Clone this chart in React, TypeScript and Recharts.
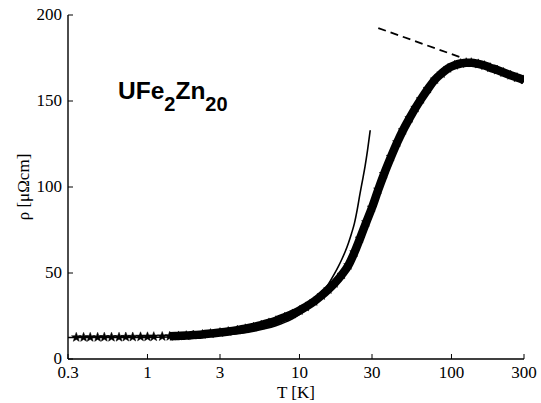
import React from 'react';
import { ComposedChart, Line, Scatter, XAxis, YAxis } from 'recharts';

// Measured resistivity rho(T) of UFe2Zn20 (star markers)
const tempK = [
  0.34, 0.38, 0.42, 0.47, 0.52, 0.58, 0.65, 0.72, 0.8, 0.9, 1.0, 1.1, 1.25, 1.4, 1.6, 1.8, 2.0, 2.3,
  2.6, 3.0, 3.4, 3.9, 4.4, 5.0, 5.6, 6.3, 7.0, 8.0, 9.0, 10, 11, 12.5, 14, 15.5, 17, 19, 21, 23, 25,
  27.5, 30, 33, 36, 40, 44, 48, 53, 58, 63, 70, 78, 86, 95, 105, 115, 125, 135, 150, 165, 180, 200,
  220, 245, 270, 300,
];
const rhoValues = [
  12.6, 12.6, 12.6, 12.6, 12.7, 12.7, 12.7, 12.8, 12.8, 12.9, 12.9, 13.0, 13.1, 13.2, 13.4, 13.6, 13.9,
  14.3, 14.8, 15.4, 16.0, 16.8, 17.6, 18.6, 19.7, 21.0, 22.3, 24.3, 26.2, 28.2, 30.3, 33.5, 37, 40.5, 44,
  49, 54.5, 62, 70, 79.5, 88, 98.5, 107.5, 117.5, 126, 133, 140, 146, 151, 157, 162.5, 166, 169, 170.8,
  171.8, 172.3, 172.3, 171.6, 170.6, 169.4, 168, 166.6, 165, 163.6, 162.3,
];

// Low-temperature fit (thin solid line)
const fitT = [0.3, 0.5, 1, 1.5, 2, 3, 4, 5, 6, 7, 8, 9, 10, 11, 12, 13, 14, 15, 16, 17, 18, 19, 20, 21, 22, 23, 24, 25, 26, 27, 28, 29.2];
const fitRho = [12.5, 12.5, 12.6, 12.8, 13.1, 13.9, 14.9, 16.2, 17.7, 19.4, 21.3, 23.4, 25.8, 28.4, 31.2, 34.4, 38, 41.7, 45.6, 49.6, 53.7, 58, 62.5, 67.5, 73, 79, 87, 96, 104, 112, 121, 133];

// High-temperature -lnT line (dashed)
const dashT = [33, 120];
const dashRho = [192.4, 174.8];

const xTicks = [0.3, 1, 3, 10, 30, 100, 300];
const yTicks = [0, 50, 100, 150, 200];

const mainData = tempK.map((T, i) => ({ T, rho: rhoValues[i] }));
const bandData = mainData.filter((d) => d.T >= 1.4);
const fitData = fitT.map((T, i) => ({ T, rho: fitRho[i] }));
const dashData = dashT.map((T, i) => ({ T, rho: dashRho[i] }));

const SERIF = 'Liberation Serif';
const FS = 17;
const textStyle = { fontFamily: "'Liberation Serif'", fontSize: FS };

function Star(props: any) {
  const { cx, cy } = props;
  if (cx == null || cy == null || isNaN(cx) || isNaN(cy)) return null;
  const R = 5;
  const r = 2.1;
  let d = '';
  for (let k = 0; k < 10; k++) {
    const rad = k % 2 === 0 ? R : r;
    const a = -Math.PI / 2 + (k * Math.PI) / 5;
    d += (k === 0 ? 'M' : 'L') + (cx + rad * Math.cos(a)).toFixed(2) + ',' + (cy + rad * Math.sin(a)).toFixed(2);
  }
  return <path d={d + 'Z'} fill="#000" stroke="#000" strokeWidth={0.5} />;
}

const renderXTick = (props: any) => {
  const { x, y, payload } = props;
  return (
    <text x={x} y={y} dy="0.74em" textAnchor="middle" fill="#000" fontFamily={SERIF} fontSize={FS} style={textStyle}>
      {String(payload.value)}
    </text>
  );
};

const renderYTick = (props: any) => {
  const { x, y, payload } = props;
  return (
    <text x={x} y={y} dy="0.28em" textAnchor="end" fill="#000" fontFamily={SERIF} fontSize={FS} style={textStyle}>
      {String(payload.value)}
    </text>
  );
};

const renderXTitle = (props: any) => {
  const vb = props.viewBox || {};
  return (
    <text x={vb.x + vb.width / 2} y={vb.y + vb.height - 5} textAnchor="middle" fill="#000" fontFamily={SERIF} fontSize={FS} style={textStyle}>
      T [K]
    </text>
  );
};

const renderYTitle = (props: any) => {
  const vb = props.viewBox || {};
  const cx = vb.x + 29;
  const cy = vb.y + vb.height / 2;
  return (
    <text x={cx} y={cy} textAnchor="middle" fill="#000" transform={`rotate(-90, ${cx}, ${cy})`} fontFamily={SERIF} fontSize={FS} style={textStyle}>
      ρ [μΩcm]
    </text>
  );
};

export default function App() {
  return (
    <div style={{ position: 'absolute', left: 0, top: 0, width: 541, height: 403, background: '#fff' }}>
      <ComposedChart width={541} height={403} margin={{ top: 15, right: 17, bottom: 0, left: 0 }}>
        <XAxis
          xAxisId="bottom"
          dataKey="T"
          type="number"
          scale="log"
          domain={[0.3, 300]}
          allowDataOverflow
          ticks={xTicks}
          height={44}
          tickSize={-5}
          tickMargin={11}
          tick={renderXTick}
          axisLine={{ stroke: '#000', strokeWidth: 1.4 }}
          tickLine={{ stroke: '#000', strokeWidth: 1 }}
          label={renderXTitle}
        />
        <XAxis
          xAxisId="top"
          orientation="top"
          dataKey="T"
          type="number"
          scale="log"
          domain={[0.3, 300]}
          allowDataOverflow
          ticks={xTicks}
          height={0}
          tickSize={-5}
          tickFormatter={() => ''}
          axisLine={{ stroke: '#000', strokeWidth: 1.4 }}
          tickLine={{ stroke: '#000', strokeWidth: 1 }}
        />
        <YAxis
          yAxisId="left"
          type="number"
          domain={[0, 200]}
          allowDataOverflow
          ticks={yTicks}
          width={68}
          tickSize={-5}
          tickMargin={11}
          tick={renderYTick}
          axisLine={{ stroke: '#000', strokeWidth: 1.4 }}
          tickLine={{ stroke: '#000', strokeWidth: 1 }}
          label={renderYTitle}
        />
        <YAxis
          yAxisId="right"
          orientation="right"
          type="number"
          domain={[0, 200]}
          allowDataOverflow
          ticks={yTicks}
          width={0}
          tickSize={-5}
          tickFormatter={() => ''}
          axisLine={{ stroke: '#000', strokeWidth: 1.4 }}
          tickLine={{ stroke: '#000', strokeWidth: 1 }}
        />
        <Line
          xAxisId="bottom"
          yAxisId="left"
          data={bandData}
          dataKey="rho"
          type="monotone"
          stroke="#000"
          strokeWidth={8.5}
          dot={false}
          activeDot={false}
          isAnimationActive={false}
        />
        <Scatter
          xAxisId="bottom"
          yAxisId="left"
          data={mainData}
          dataKey="rho"
          shape={Star}
          isAnimationActive={false}
        />
        <Line
          xAxisId="bottom"
          yAxisId="left"
          data={fitData}
          dataKey="rho"
          type="monotone"
          stroke="#000"
          strokeWidth={1.6}
          dot={false}
          activeDot={false}
          isAnimationActive={false}
        />
        <Line
          xAxisId="bottom"
          yAxisId="left"
          data={dashData}
          dataKey="rho"
          type="linear"
          stroke="#000"
          strokeWidth={1.8}
          strokeDasharray="8 5"
          dot={false}
          activeDot={false}
          isAnimationActive={false}
        />
      </ComposedChart>
      <svg width={541} height={403} style={{ position: 'absolute', left: 0, top: 0, pointerEvents: 'none' }}>
        <text x={118} y={99} fontFamily="Liberation Sans" fontWeight="bold" fontSize={24.5} fill="#000" style={{ fontFamily: "'Liberation Sans'" }}>
          UFe
          <tspan fontSize={20} dy={12}>2</tspan>
          <tspan fontSize={24.5} dy={-12}>Zn</tspan>
          <tspan fontSize={20} dy={12}>20</tspan>
        </text>
      </svg>
    </div>
  );
}
